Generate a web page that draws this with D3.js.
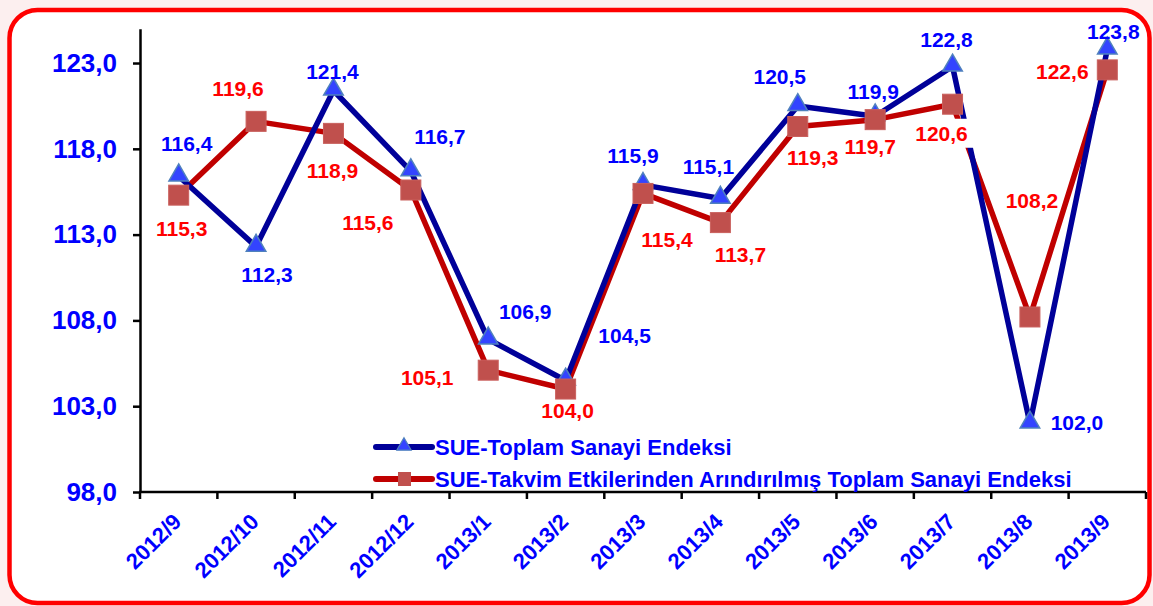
<!DOCTYPE html>
<html lang="tr">
<head>
    <meta charset="UTF-8">
    <title>SUE - Toplam Sanayi Endeksi</title>
    <script src="https://d3js.org/d3.v7.min.js"></script>
    <style>
        html, body {
            margin: 0;
            padding: 0;
            background: #fcefef;
        }
        svg {
            display: block;
            font-family: "Liberation Sans", Arial, sans-serif;
            font-weight: bold;
        }
    </style>
</head>
<body>
    <svg id="chart" width="1153" height="606"></svg>

    <script>
        // Data
        const months = ["2012/9", "2012/10", "2012/11", "2012/12", "2013/1", "2013/2", "2013/3",
                        "2013/4", "2013/5", "2013/6", "2013/7", "2013/8", "2013/9"];
        const totalIndex = [116.4, 112.3, 121.4, 116.7, 106.9, 104.5, 115.9, 115.1, 120.5, 119.9, 122.8, 102.0, 123.8];
        const adjustedIndex = [115.3, 119.6, 118.9, 115.6, 105.1, 104.0, 115.4, 113.7, 119.3, 119.7, 120.6, 108.2, 122.6];
        const yTicks = [98, 103, 108, 113, 118, 123];
        const seriesNames = ["SUE-Toplam Sanayi Endeksi",
                             "SUE-Takvim Etkilerinden Arındırılmış Toplam Sanayi Endeksi"];

        // label placement relative to each point (dx, dy)
        const blueLabelOffset = [[8,-33],[11,28],[-1,-19],[29,-35],[37,-28],[59,-45],[-10,-29],
                                 [-12,-32],[-18,-29],[-2,-25],[-6,-27],[47,-1],[6,-18]];
        const redLabelOffset = [[3,33],[-18,-33],[-1,37],[-43,32],[-61,7],[2,21],[24,46],
                                [20,32],[15,31],[-5,27],[-11,29],[2,-117],[-45,2]];

        const fmt = v => v.toFixed(1).replace(".", ",");

        const svg = d3.select("#chart");

        // frame
        svg.append("rect")
            .attr("x", 9.5).attr("y", 10)
            .attr("width", 1140).attr("height", 593)
            .attr("rx", 28).attr("ry", 28)
            .attr("fill", "#fff")
            .attr("stroke", "#ff0000")
            .attr("stroke-width", 4.5);

        const x = d3.scaleBand().domain(months).range([140, 1146]).padding(0);
        const y = d3.scaleLinear().domain([98, 125]).range([492, 28.7]);
        const cx = d => x(d) + x.bandwidth() / 2;

        // y axis
        const yAxis = svg.append("g")
            .attr("transform", "translate(140,0)")
            .call(d3.axisLeft(y).tickValues(yTicks).tickFormat(fmt).tickSize(7).tickSizeOuter(0));
        yAxis.select(".domain").attr("stroke", "#000").attr("stroke-width", 2.5);
        yAxis.selectAll(".tick line").attr("stroke", "#000").attr("stroke-width", 2.5);
        yAxis.selectAll(".tick text")
            .attr("x", -23)
            .attr("fill", "#0000ff")
            .attr("font-size", 26)
            .attr("font-weight", "bold")
            .attr("font-family", "'Liberation Sans', Arial, sans-serif");

        // x axis
        const xAxis = svg.append("g");
        xAxis.append("line")
            .attr("x1", x.range()[0] - 1).attr("x2", x.range()[1])
            .attr("y1", y(98)).attr("y2", y(98))
            .attr("stroke", "#000").attr("stroke-width", 2.5);
        const bounds = months.map(m => x(m)).concat([x.range()[1]]);
        xAxis.selectAll(".xtick")
            .data(bounds)
            .join("line")
            .attr("x1", d => d).attr("x2", d => d)
            .attr("y1", y(98)).attr("y2", y(98) + 7)
            .attr("stroke", "#000").attr("stroke-width", 2.5);
        xAxis.selectAll(".xlab")
            .data(months)
            .join("text")
            .attr("transform", d => `translate(${cx(d) + 4},${y(98) + 31}) rotate(-45)`)
            .attr("text-anchor", "end")
            .attr("fill", "#0000ff")
            .attr("font-size", 22)
            .text(d => d);

        // lines
        const line = d3.line().x((d, i) => cx(months[i])).y(d => y(d));
        svg.append("path").datum(adjustedIndex)
            .attr("d", line).attr("fill", "none")
            .attr("stroke", "#c00000").attr("stroke-width", 5.5)
            .attr("stroke-linejoin", "round");
        svg.append("path").datum(totalIndex)
            .attr("d", line).attr("fill", "none")
            .attr("stroke", "#000099").attr("stroke-width", 5.5)
            .attr("stroke-linejoin", "round");

        // markers
        const tri = d3.symbol().type(d3.symbolTriangle).size(165);
        svg.append("g").selectAll("path")
            .data(totalIndex)
            .join("path")
            .attr("d", tri)
            .attr("transform", (d, i) => `translate(${cx(months[i])},${y(d) - 1})`)
            .attr("fill", "#3344ff")
            .attr("stroke", "#4f81bd").attr("stroke-width", 1.5);
        svg.append("g").selectAll("rect")
            .data(adjustedIndex)
            .join("rect")
            .attr("x", (d, i) => cx(months[i]) - 10)
            .attr("y", d => y(d) - 10)
            .attr("width", 20).attr("height", 20)
            .attr("fill", "#c0504d")
            .attr("stroke", "#c9605d").attr("stroke-width", 1);

        // data labels
        function addLabels(values, offsets, color, boxed) {
            const g = svg.append("g");
            values.forEach((v, i) => {
                const t = g.append("text")
                    .attr("x", cx(months[i]) + offsets[i][0])
                    .attr("y", y(v) + offsets[i][1])
                    .attr("dy", "0.36em")
                    .attr("text-anchor", "middle")
                    .attr("fill", color)
                    .attr("font-size", 21)
                    .text(fmt(v));
                if (boxed.includes(i)) {
                    const b = t.node().getBBox();
                    g.insert("rect", "text")
                        .attr("x", b.x - 6).attr("y", b.y - 3)
                        .attr("width", b.width + 12).attr("height", b.height + 6)
                        .attr("fill", "#fff");
                }
            });
        }
        addLabels(totalIndex, blueLabelOffset, "#0000ff", []);
        addLabels(adjustedIndex, redLabelOffset, "#ff0000", [10]);

        // legend
        const legend = svg.append("g").attr("transform", "translate(376,447)");
        const legendRows = legend.selectAll("g")
            .data(seriesNames)
            .join("g")
            .attr("transform", (d, i) => `translate(0,${i * 32})`);
        legendRows.append("line")
            .attr("x1", 0).attr("x2", 56)
            .attr("stroke", (d, i) => i === 0 ? "#000099" : "#c00000")
            .attr("stroke-width", 6).attr("stroke-linecap", "round");
        legendRows.each(function (d, i) {
            const row = d3.select(this);
            if (i === 0) {
                row.append("path").attr("d", d3.symbol().type(d3.symbolTriangle).size(90))
                    .attr("transform", "translate(28,-1)")
                    .attr("fill", "#3344ff").attr("stroke", "#4f81bd").attr("stroke-width", 1.2);
            } else {
                row.append("rect").attr("x", 22).attr("y", -7).attr("width", 13).attr("height", 14)
                    .attr("fill", "#c0504d");
            }
        });
        legendRows.append("text")
            .attr("x", 59).attr("dy", "0.36em")
            .attr("fill", "#0000ff")
            .attr("font-size", 22)
            .text(d => d);
    </script>
</body>
</html>
